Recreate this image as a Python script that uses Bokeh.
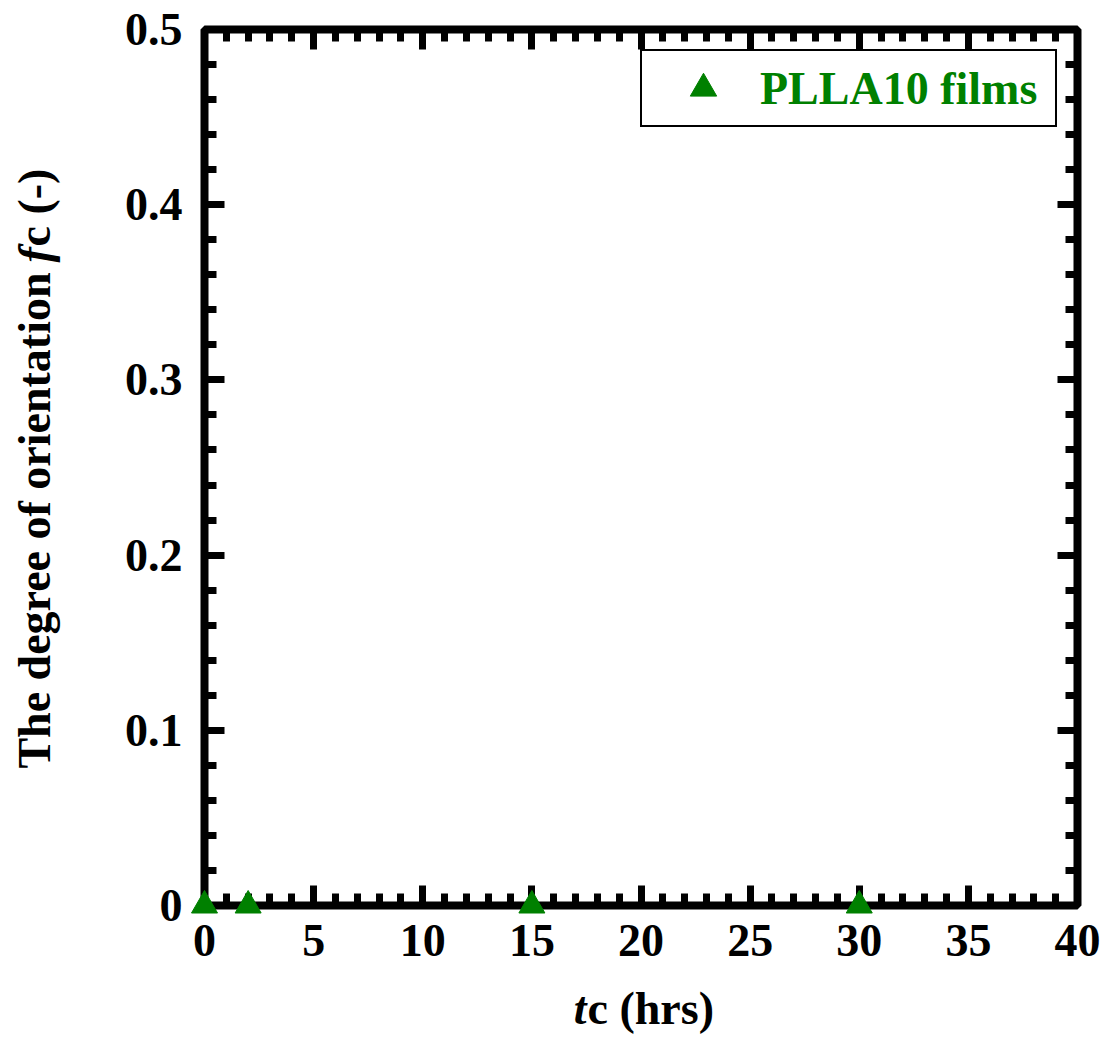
import math
from bokeh.plotting import figure
from bokeh.models import Range1d, LinearAxis, SingleIntervalTicker
from bokeh.core.properties import value
from bokeh.embed import file_html
from bokeh.resources import INLINE

# ---- data ----
tc_hrs = [0, 2, 15, 30]
fc_values = [0, 0, 0, 0]
series_name = "PLLA10 films"

x_tick_values = [0, 5, 10, 15, 20, 25, 30, 35, 40]
x_tick_labels = ["0", "5", "10", "15", "20", "25", "30", "35", "40"]
y_tick_values = [0, 0.1, 0.2, 0.3, 0.4, 0.5]
y_tick_labels = ["0", "0.1", "0.2", "0.3", "0.4", "0.5"]

# ---- layout ----
W, H = 1107, 1045
FL, FR, FT, FB = 204, 1077, 29, 905
XMIN, XMAX = 0, 40
YMIN, YMAX = 0, 0.5
FONT = "Liberation Serif"
GREEN = "#008000"

p = figure(width=W, height=H,
           x_range=Range1d(XMIN, XMAX), y_range=Range1d(YMIN, YMAX),
           output_backend="svg", toolbar_location=None,
           min_border_left=FL, min_border_right=W - FR,
           min_border_top=FT, min_border_bottom=H - FB)
p.background_fill_color = "white"
p.border_fill_color = "white"
p.xgrid.visible = False
p.ygrid.visible = False
p.outline_line_color = "black"
p.outline_line_width = 8

xt = SingleIntervalTicker(interval=5, num_minor_ticks=5)
yt = SingleIntervalTicker(interval=0.1, num_minor_ticks=5)

def style_axis(ax, ticker, overrides, show_labels, standoff):
    ax.ticker = ticker
    ax.axis_line_color = None
    ax.major_tick_in = 20
    ax.major_tick_out = 0
    ax.minor_tick_in = 12
    ax.minor_tick_out = 0
    ax.major_tick_line_width = 7
    ax.minor_tick_line_width = 7
    ax.major_tick_line_color = "black"
    ax.minor_tick_line_color = "black"
    ax.axis_label = None
    if show_labels:
        ax.major_label_overrides = overrides
        ax.major_label_text_font = FONT
        ax.major_label_text_font_style = "bold"
        ax.major_label_text_font_size = "46px"
        ax.major_label_text_color = "black"
        ax.major_label_standoff = standoff
    else:
        ax.major_label_text_color = None
        ax.major_label_text_font_size = "8px"
        ax.major_label_standoff = 0

x_over = {v: s for v, s in zip(x_tick_values, x_tick_labels)}
y_over = {v: s for v, s in zip(y_tick_values, y_tick_labels)}

style_axis(p.xaxis[0], xt, x_over, True, 19)
style_axis(p.yaxis[0], yt, y_over, True, 22)

top_ax = LinearAxis()
right_ax = LinearAxis()
style_axis(top_ax, xt, x_over, False, 0)
style_axis(right_ax, yt, y_over, False, 0)
p.add_layout(top_ax, "above")
p.add_layout(right_ax, "right")

# ---- data marks ----
r = p.scatter(tc_hrs, fc_values, marker="triangle", size=26,
              fill_color=GREEN, line_color=GREEN, legend_label=series_name,
              level="overlay")

leg = p.legend[0]
leg.location = "top_right"
leg.margin = 20
leg.padding = 4
leg.glyph_width = 114
leg.glyph_height = 66
leg.label_height = 66
leg.label_width = 291
leg.label_standoff = 0
leg.label_text_font = FONT
leg.label_text_font_style = "bold"
leg.label_text_font_size = "46px"
leg.label_text_color = GREEN
leg.border_line_color = "black"
leg.border_line_alpha = 1.0
leg.border_line_width = 2
leg.background_fill_color = "white"
leg.background_fill_alpha = 1

# ---- axis titles (mixed italic / upright), drawn as unclipped text ----
def dx(px):
    return XMIN + (px - FL) / (FR - FL) * (XMAX - XMIN)

def dy(py):
    return YMIN + (FB - py) / (FB - FT) * (YMAX - YMIN)

def lab(text, x, y, style, align, angle=0.0):
    p.text(x=[dx(x)], y=[dy(y)], text=[text], text_font=value(FONT),
           text_font_style=style, text_font_size="46px",
           text_color="black", text_align=align,
           text_baseline="middle", angle=angle, level="overlay")

# x title: "tc (hrs)"
lab("t", 586, 1008, "bold italic", "right")
lab("c (hrs)", 587, 1008, "bold", "left")

# y title: "The degree of orientation fc (-)"
a = math.pi / 2
lab("The degree of orientation", 34, 272, "bold", "right", a)
lab("f", 34, 262, "bold italic", "left", a)
lab("c (-)", 34, 246, "bold", "left", a)

open("out.html", "w").write(file_html(p, INLINE))
